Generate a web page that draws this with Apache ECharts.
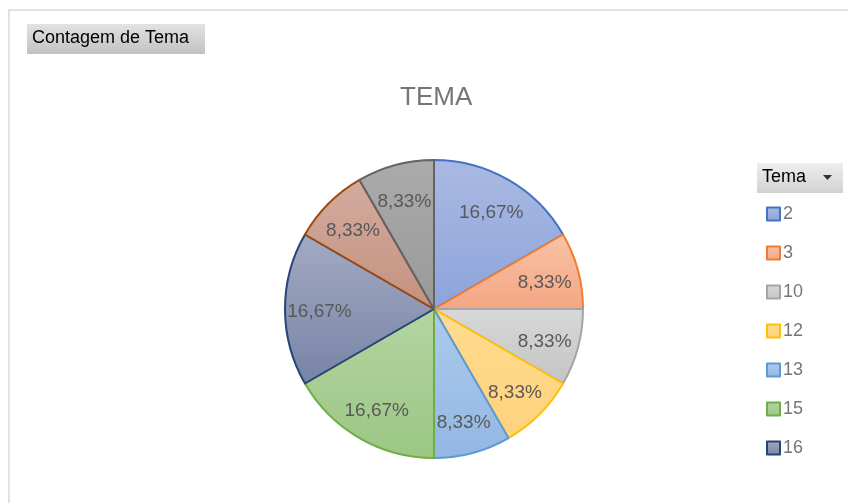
<!DOCTYPE html>
<html>
<head>
<meta charset="utf-8">
<script src="https://cdn.jsdelivr.net/npm/echarts@6/dist/echarts.min.js"></script>
<style>
  html, body { margin: 0; padding: 0; background: #fff; }
  #chart { width: 848px; height: 503px; }
</style>
</head>
<body>
<div id="chart"></div>
<script>
// dados do gráfico
var categorias = ['2', '3', '10', '12', '13', '15', '16', '17', '18'];
var contagem = [2, 1, 1, 1, 1, 2, 2, 1, 1];
var legendaVisivel = ['2', '3', '10', '12', '13', '15', '16'];

// cores estilo Office (borda, topo do degradê, base do degradê)
var bordas = ['#4472C4', '#ED7D31', '#A5A5A5', '#FFC000', '#5B9BD5', '#70AD47', '#264478', '#9E480E', '#636363'];
var topo = ['#AAB9E2', '#F8C2A6', '#D8D8D8', '#FFDB90', '#AECAEC', '#B4D4A2', '#A3AAC2', '#D3AC9F', '#ABABAB'];
var base = ['#8CA4DB', '#F4A683', '#C4C4C4', '#FFD27C', '#92B7E3', '#9BC783', '#7883A6', '#C3917F', '#999999'];

var total = contagem.reduce(function (a, b) { return a + b; }, 0);

var chart = echarts.init(document.getElementById('chart'));

var dados = categorias.map(function (c, i) {
    return {
        name: c,
        value: contagem[i],
        itemStyle: {
            color: new echarts.graphic.LinearGradient(0, 0, 0, 1, [
                { offset: 0, color: topo[i] },
                { offset: 1, color: base[i] }
            ]),
            borderColor: bordas[i],
            borderWidth: 2
        }
    };
});

var rotulos = categorias.map(function (c, i) {
    return { name: c, value: contagem[i] };
});

var fmt = function (p) {
    return (p.value / total * 100).toFixed(2).replace('.', ',') + '%';
};

var option = {
    animation: false,
    title: {
        text: 'TEMA',
        left: 395,
        top: 80,
        textStyle: { color: '#767676', fontSize: 26, fontWeight: 'normal', fontFamily: 'Liberation Sans' }
    },
    legend: {
        data: legendaVisivel,
        orient: 'vertical',
        left: 766,
        top: 205,
        padding: 0,
        itemWidth: 13,
        itemHeight: 13,
        itemGap: 21,
        icon: 'rect',
        textStyle: { color: '#767676', fontSize: 18, fontFamily: 'Liberation Sans', padding: [0, 0, 0, -2] },
        selectedMode: false
    },
    graphic: [
        {
            type: 'rect',
            shape: { x: 9, y: 10, width: 900, height: 600 },
            style: { fill: 'none', stroke: '#D9D9D9', lineWidth: 1.5 },
            silent: true
        },
        {
            type: 'rect',
            shape: { x: 27, y: 24, width: 178, height: 30 },
            style: {
                fill: new echarts.graphic.LinearGradient(0, 0, 0, 1, [
                    { offset: 0, color: '#E2E2E2' },
                    { offset: 1, color: '#C2C2C2' }
                ])
            }
        },
        {
            type: 'text',
            left: 32,
            top: 29,
            style: { text: 'Contagem de Tema', fill: '#000', font: '18px "Liberation Sans"' }
        },
        {
            type: 'rect',
            shape: { x: 757, y: 163, width: 86, height: 30 },
            style: {
                fill: new echarts.graphic.LinearGradient(0, 0, 0, 1, [
                    { offset: 0, color: '#EEEEEE' },
                    { offset: 1, color: '#D2D2D2' }
                ])
            }
        },
        {
            type: 'text',
            left: 762,
            top: 168,
            style: { text: 'Tema', fill: '#000', font: '18px "Liberation Sans"' }
        },
        {
            type: 'polygon',
            shape: { points: [[823, 175], [832, 175], [827.5, 180]] },
            style: { fill: '#333' }
        }
    ],
    series: [
        {
            type: 'pie',
            center: [434, 309],
            radius: [0, 149],
            startAngle: 90,
            clockwise: true,
            label: { show: false },
            labelLine: { show: false },
            emphasis: { disabled: true },
            data: dados
        },
        {
            type: 'pie',
            center: [434, 309],
            radius: [74, 149],
            startAngle: 90,
            clockwise: true,
            silent: true,
            itemStyle: { color: 'rgba(0,0,0,0)', borderWidth: 0 },
            label: {
                show: true,
                position: 'inside',
                formatter: fmt,
                color: '#595959',
                fontSize: 19,
                fontFamily: 'Liberation Sans'
            },
            labelLayout: { dy: 3 },
            labelLine: { show: false },
            emphasis: { disabled: true },
            data: rotulos
        }
    ]
};

chart.setOption(option);
</script>
</body>
</html>
